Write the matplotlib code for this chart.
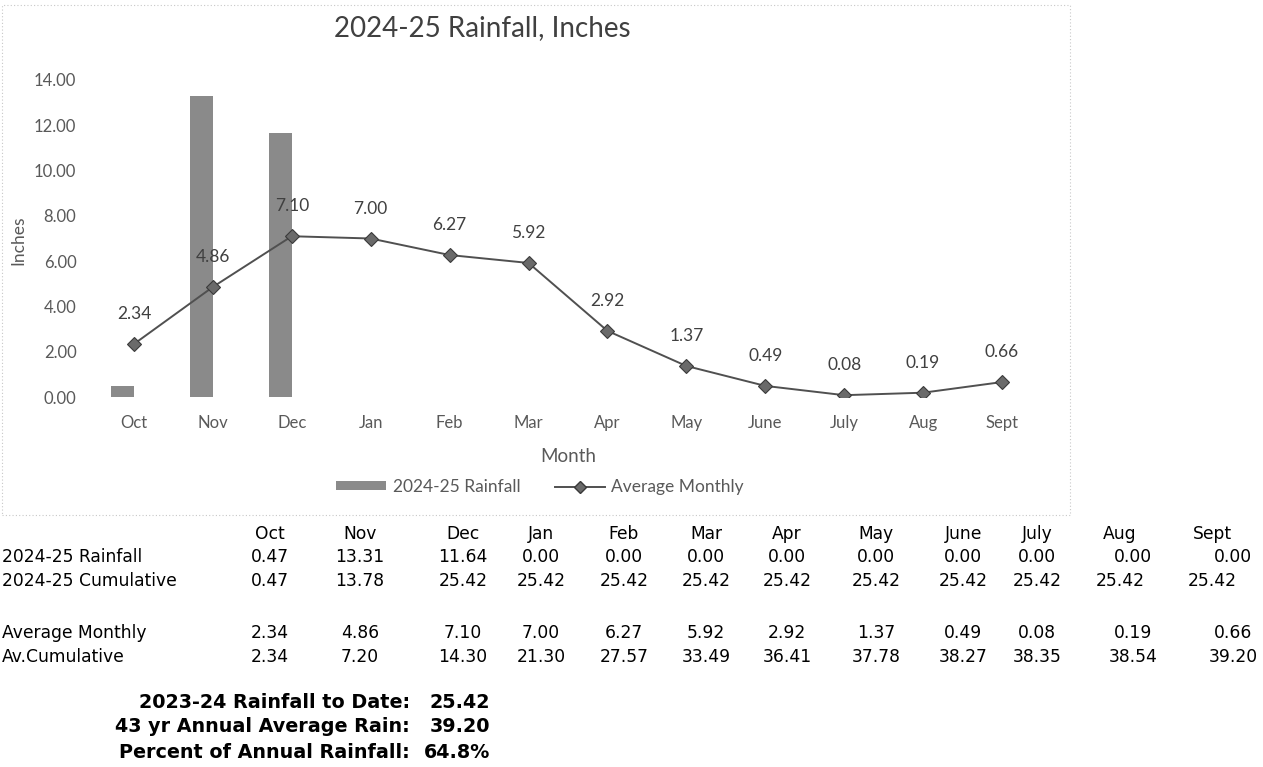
import matplotlib
matplotlib.use("Agg")
import matplotlib.pyplot as plt
from matplotlib.patches import Rectangle
from matplotlib.lines import Line2D
import numpy as np

# ---------------- data ----------------
months = ["Oct", "Nov", "Dec", "Jan", "Feb", "Mar", "Apr", "May", "June", "July", "Aug", "Sept"]
rain_2425 = [0.47, 13.31, 11.64, 0.00, 0.00, 0.00, 0.00, 0.00, 0.00, 0.00, 0.00, 0.00]
cum_2425 = [0.47, 13.78, 25.42, 25.42, 25.42, 25.42, 25.42, 25.42, 25.42, 25.42, 25.42, 25.42]
avg_monthly = [2.34, 4.86, 7.10, 7.00, 6.27, 5.92, 2.92, 1.37, 0.49, 0.08, 0.19, 0.66]
avg_cum = [2.34, 7.20, 14.30, 21.30, 27.57, 33.49, 36.41, 37.78, 38.27, 38.35, 38.54, 39.20]
yticks = [0, 2, 4, 6, 8, 10, 12, 14]

row_labels = ["2024-25 Rainfall", "2024-25 Cumulative", "Average Monthly", "Av.Cumulative"]
summary_labels = ["2023-24 Rainfall to Date:", "43 yr Annual Average Rain:", "Percent of Annual Rainfall:"]
summary_values = ["25.42", "39.20", "64.8%"]

W, H = 1263, 767
fig = plt.figure(figsize=(W / 100, H / 100), dpi=100)
fig.patch.set_facecolor("white")

def fx(px):
    return px / W

def fy(py):
    return 1 - py / H

CF = "Lato"
TICK_C = "#595959"
LBL_C = "#404040"

# chart area border (dotted)
fig.patches.append(Rectangle((fx(2), fy(515)), fx(1070) - fx(2), fy(5) - fy(515),
                             transform=fig.transFigure, fill=False,
                             edgecolor="#c8c8c8", linestyle=(0, (1, 2)), linewidth=0.8))

# ---------------- chart ----------------
ax = fig.add_axes([fx(94.5), fy(397), fx(1041.5) - fx(94.5), fy(80) - fy(397)])
x = np.arange(len(months))
ax.bar(x, rain_2425, width=-0.29, align="edge", color="#8a8a8a", edgecolor="none",
       label="2024-25 Rainfall", zorder=2)
ax.plot(x, avg_monthly, color="#505050", linewidth=1.4, marker="D", markersize=7,
        markerfacecolor="#6a6a6a", markeredgecolor="#3a3a3a", markeredgewidth=0.8,
        label="Average Monthly", zorder=3)
for xi, v in zip(x, avg_monthly):
    ax.annotate(f"{v:.2f}", (xi, v), xytext=(0, 21.5), textcoords="offset points",
                ha="center", va="center", fontsize=12.5, family=CF, color=LBL_C, zorder=4)

ax.set_xlim(-0.5, len(months) - 0.5)
ax.set_ylim(0, 14)
ax.set_yticks(yticks)
ax.set_yticklabels([f"{t:.2f}" for t in yticks])
ax.set_xticks(x)
ax.set_xticklabels(months)
for sp in ax.spines.values():
    sp.set_visible(False)
ax.tick_params(axis="both", length=0, colors=TICK_C, labelsize=12)
ax.tick_params(axis="y", pad=13)
ax.tick_params(axis="x", pad=13)
for lab in ax.get_xticklabels() + ax.get_yticklabels():
    lab.set_family(CF)
ax.set_facecolor("none")

fig.text(fx(482), fy(28), "2024-25 Rainfall, Inches", ha="center", va="center",
         fontsize=20, family=CF, color=LBL_C)
fig.text(fx(568), fy(457), "Month", ha="center", va="center", fontsize=13.5,
         family=CF, color=TICK_C)
fig.text(fx(18), fy(240), "Inches", ha="center", va="center", rotation=90,
         fontsize=12.5, family=CF, color=TICK_C)

handles = [Rectangle((0, 0), 1, 1, facecolor="#8a8a8a", edgecolor="none"),
           Line2D([0], [0], color="#505050", linewidth=1.4, marker="D", markersize=6.5,
                  markerfacecolor="#6a6a6a", markeredgecolor="#3a3a3a")]
leg = fig.legend(handles, ["2024-25 Rainfall", "Average Monthly"], loc="center",
                 bbox_to_anchor=(fx(540), fy(487)), ncol=2, frameon=False,
                 prop={"family": CF, "size": 12.5}, handlelength=2.9, handleheight=0.45,
                 handletextpad=0.35, columnspacing=2.0, labelcolor=TICK_C)

# ---------------- table ----------------
TF = "DejaVu Sans"
TS = 12.3
col_x = [270, 360, 463, 541, 624, 706, 787, 876, 963, 1037, 1120, 1212]
col_x_shift = [270, 360, 463, 541, 624, 706, 787, 876, 963, 1037, 1133, 1233]
row_y = [534, 557, 581, 633, 657]

for m, cx in zip(months, col_x):
    fig.text(fx(cx), fy(row_y[0]), m, ha="center", va="center", fontsize=TS, family=TF, color="black")

rows = [rain_2425, cum_2425, avg_monthly, avg_cum]
for r, (lab, vals) in enumerate(zip(row_labels, rows)):
    yy = row_y[r + 1]
    fig.text(fx(2), fy(yy), lab, ha="left", va="center", fontsize=TS, family=TF, color="black")
    xs = col_x if r == 1 else col_x_shift
    for cx, v in zip(xs, vals):
        fig.text(fx(cx), fy(yy), f"{v:.2f}", ha="center", va="center", fontsize=TS,
                 family=TF, color="black")

sum_y = [703, 727, 752]
for lab, val, yy in zip(summary_labels, summary_values, sum_y):
    fig.text(fx(410), fy(yy), lab, ha="right", va="center", fontsize=13.8, family=TF,
             weight="bold", color="black")
    fig.text(fx(490), fy(yy), val, ha="right", va="center", fontsize=13.8, family=TF,
             weight="bold", color="black")

fig.savefig("out.png", dpi=100)
